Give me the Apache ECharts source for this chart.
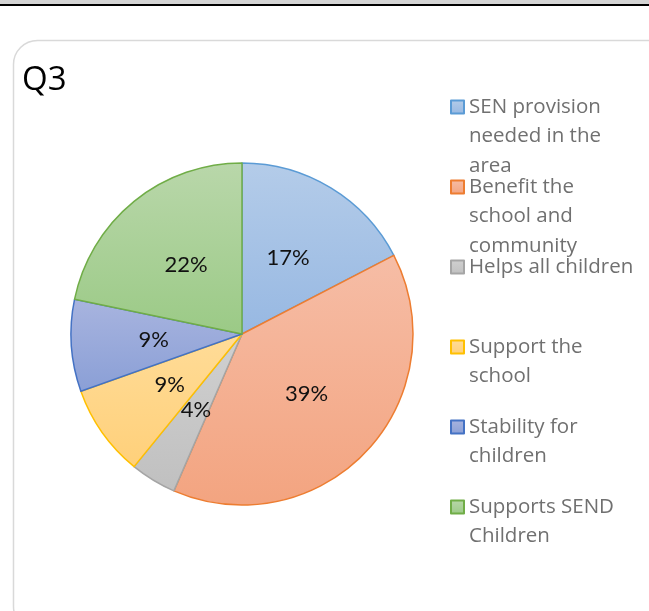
<!DOCTYPE html>
<html><head><meta charset="utf-8">
<script src="https://cdn.jsdelivr.net/npm/echarts@6/dist/echarts.min.js"></script>
<style>html,body{margin:0;padding:0;background:#fff}#c{width:649px;height:611px}</style>
</head><body><div id="c"></div>
<script>
const chartTitle = 'Q3';
const categories = ['SEN provision needed in the area','Benefit the school and community','Helps all children','Support the school','Stability for children','Supports SEND Children'];
const legendLines = [['SEN provision','needed in the','area'],['Benefit the','school and','community'],['Helps all children'],['Support the','school'],['Stability for','children'],['Supports SEND','Children']];
const counts = [4, 9, 1, 2, 2, 5];
const fillTop = ['#b4cce9','#f6bda6','#d0d0d0','#ffdc98','#a8b4df','#b9d7aa'];
const fillBottom = ['#97b8e2','#f3a480','#c0c0c0','#ffd07a','#8a9fd6','#9bca86'];
const borderColors = ['#5b9bd5','#ed7d31','#a5a5a5','#ffc000','#4472c4','#70ad47'];

const L = 29.5;
const legends = categories.map((name, i) => {
  const n = legendLines[i].length;
  const H = (2 * n - 1) * L;
  const iconCenter = 107 + 80 * i;
  // leading empty lines keep the first text line level with the icon
  const txt = '\n'.repeat(n - 1) + legendLines[i].join('\n');
  return {
    data: [name], orient: 'vertical', left: 450, top: iconCenter - H / 2, padding: 0,
    itemWidth: 13, itemHeight: 13, itemGap: 0, icon: 'rect',
    itemStyle: { borderWidth: 2 },
    selectedMode: false,
    formatter: () => txt,
    textStyle: { fontFamily: 'Open Sans', fontSize: 20.5, color: '#707070', lineHeight: L }
  };
});

const chart = echarts.init(document.getElementById('c'), null, { renderer: 'canvas' });
chart.setOption({
  animation: false,
  backgroundColor: '#fff',
  title: { text: chartTitle, left: 22, top: 64, padding: 0,
    textStyle: { fontFamily: 'Open Sans', fontSize: 33, fontWeight: 'normal', color: '#000' } },
  graphic: [
    { type: 'rect', shape: { x: 0, y: 0, width: 649, height: 5 }, style: { fill: '#d4d4d4' }, z: 10 },
    { type: 'rect', shape: { x: 0, y: 4, width: 649, height: 2 }, style: { fill: '#000' }, z: 11 },
    { type: 'rect', shape: { x: 13.5, y: 40.5, width: 660, height: 590, r: 24 },
      style: { fill: 'none', stroke: '#d9d9d9', lineWidth: 1.5 }, z: -1 }
  ],
  legend: legends,
  series: [{
    type: 'pie', center: [242, 334], radius: 171, startAngle: 90, clockwise: true,
    percentPrecision: 0, avoidLabelOverlap: false,
    data: categories.map((name, i) => ({
      name, value: counts[i],
      itemStyle: {
        color: { type: 'linear', x: 0, y: 0, x2: 0, y2: 1,
          colorStops: [{ offset: 0, color: fillTop[i] }, { offset: 1, color: fillBottom[i] }] },
        borderColor: borderColors[i], borderWidth: 1.5
      }
    })),
    label: { show: true, position: 'inside', formatter: '{d}%', fontFamily: 'Lato', fontSize: 22,
      color: '#111', textBorderWidth: 0 },
    labelLine: { show: false },
    emphasis: { disabled: true }
  }]
});
</script></body></html>
